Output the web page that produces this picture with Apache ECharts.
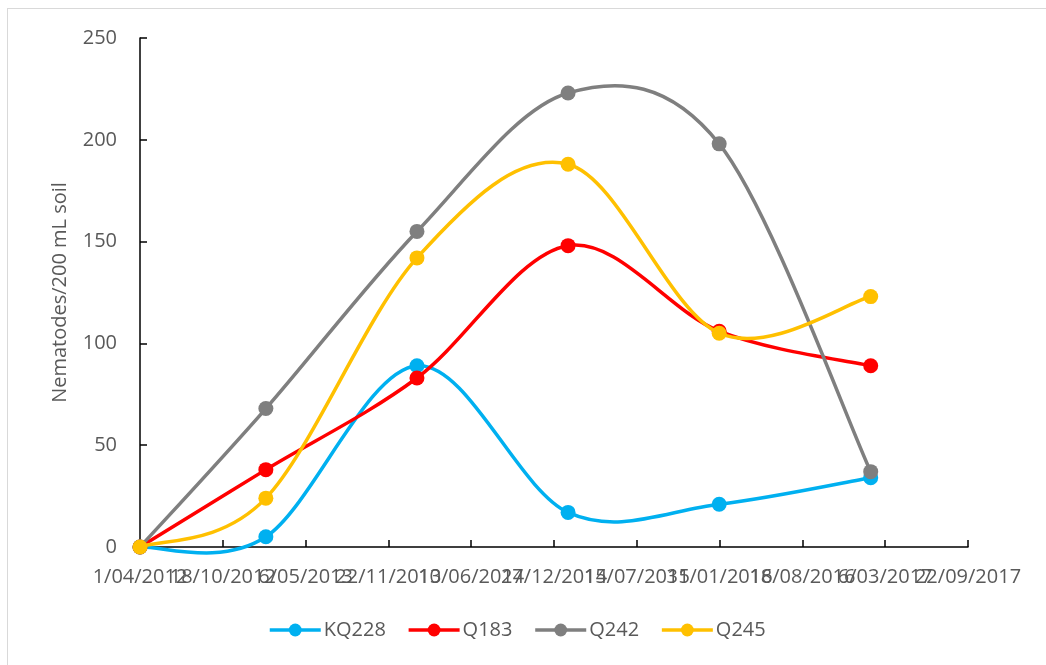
<!DOCTYPE html>
<html>
<head>
<meta charset="utf-8">
<title>Nematodes per 200 mL soil</title>
<script src="https://cdn.jsdelivr.net/npm/echarts@6/dist/echarts.min.js"></script>
<style>
  html, body { margin: 0; padding: 0; background: #ffffff; }
  #frame { position: absolute; left: 7px; top: 8px; width: 1060px; height: 680px;
           border: 1px solid #d9d9d9; box-sizing: border-box; }
  #chart { position: absolute; left: 0; top: 0; width: 1046px; height: 665px; }
</style>
</head>
<body>
<div id="frame"></div>
<div id="chart"></div>
<script>
// Sampling dates (d/mm/yyyy)
const sampleDates = ['1/04/2012', '30/01/2013', '30/01/2014', '30/01/2015', '30/01/2016', '30/01/2017'];

// Nematodes per 200 mL soil for each line
const kq228 = [0, 5, 89, 17, 21, 34];
const q183  = [0, 38, 83, 148, 106, 89];
const q242  = [0, 68, 155, 223, 198, 37];
const q245  = [0, 24, 142, 188, 105, 123];

const seriesNames = ['KQ228', 'Q183', 'Q242', 'Q245'];
const seriesColors = ['#00b0f0', '#ff0000', '#7f7f7f', '#ffc000'];

// Date axis: days counted from the first sampling date, ticks every 200 days
const axisStart = '1/04/2012';
const dayTicks = [0, 200, 400, 600, 800, 1000, 1200, 1400, 1600, 1800, 2000];

const DAY = 86400000;
function parseDmy(s) {
  const p = s.split('/').map(Number);
  return Date.UTC(p[2], p[1] - 1, p[0]);
}
const originMs = parseDmy(axisStart);
function dayOffset(s) { return Math.round((parseDmy(s) - originMs) / DAY); }
function formatDay(d) {
  const dt = new Date(originMs + d * DAY);
  const mm = String(dt.getUTCMonth() + 1).padStart(2, '0');
  return dt.getUTCDate() + '/' + mm + '/' + dt.getUTCFullYear();
}

const xs = sampleDates.map(dayOffset);
const values = [kq228, q183, q242, q245];
const xMin = dayTicks[0];
const xMax = dayTicks[dayTicks.length - 1];
const xStep = dayTicks[1] - dayTicks[0];

const FONT = '"Open Sans", "Noto Sans", sans-serif';
const TEXT = '#595959';
const LINE_W = 3.5;

// Smoothed curve: each segment is a cubic Bezier whose handles follow the
// neighbouring points (Catmull-Rom style, computed in pixel space).
function curveRenderer(color, count) {
  return function (params, api) {
    const i = params.dataIndex;
    if (i >= count - 1) return null;
    const pt = function (k) {
      k = Math.max(0, Math.min(count - 1, k));
      return api.coord([api.value(0, k), api.value(1, k)]);
    };
    const p0 = pt(i - 1), p1 = pt(i), p2 = pt(i + 1), p3 = pt(i + 2);
    return {
      type: 'bezierCurve',
      shape: {
        x1: p1[0], y1: p1[1],
        cpx1: p1[0] + (p2[0] - p0[0]) / 6, cpy1: p1[1] + (p2[1] - p0[1]) / 6,
        cpx2: p2[0] - (p3[0] - p1[0]) / 6, cpy2: p2[1] - (p3[1] - p1[1]) / 6,
        x2: p2[0], y2: p2[1]
      },
      style: { stroke: color, lineWidth: LINE_W, fill: null, lineCap: 'round' },
      silent: true
    };
  };
}

const baseAxisX = {
  type: 'value',
  min: xMin,
  max: xMax,
  interval: xStep,
  position: 'bottom',
  splitLine: { show: false }
};

const chart = echarts.init(document.getElementById('chart'), null, { renderer: 'canvas' });

const markerSeries = seriesNames.map(function (name, i) {
  return {
    name: name,
    type: 'line',
    symbol: 'circle',
    symbolSize: 15,
    showSymbol: true,
    itemStyle: { color: seriesColors[i] },
    lineStyle: { color: seriesColors[i], width: LINE_W, opacity: 0 },
    z: 3 + 2 * i,
    data: xs.map(function (x, k) { return [x, values[i][k]]; })
  };
});

const curveSeries = seriesNames.map(function (name, i) {
  return {
    name: name + ' curve',
    type: 'custom',
    renderItem: curveRenderer(seriesColors[i], xs.length),
    encode: { x: 0, y: 1 },
    clip: false,
    z: 2 + 2 * i,
    data: xs.map(function (x, k) { return [x, values[i][k]]; })
  };
});

chart.setOption({
  backgroundColor: 'transparent',
  animation: false,
  textStyle: { fontFamily: FONT },
  grid: { left: 140, right: 78, top: 38, bottom: 118, containLabel: false },
  legend: {
    left: 268,
    top: 620,
    padding: 0,
    itemWidth: 51,
    itemHeight: 16,
    itemGap: 21,
    textStyle: { fontFamily: FONT, fontSize: 20, color: TEXT, padding: [0, 0, 0, -2] },
    data: seriesNames.map(function (name, i) {
      return {
        name: name,
        lineStyle: { color: seriesColors[i], width: LINE_W, opacity: 1 }
      };
    })
  },
  xAxis: [
    Object.assign({}, baseAxisX, {
      axisLine: { show: true, lineStyle: { color: '#000000', width: 1.5 } },
      axisTick: { show: false },
      axisLabel: {
        color: TEXT, fontFamily: FONT, fontSize: 20, margin: 20,
        showMinLabel: false, showMaxLabel: false, hideOverlap: false,
        formatter: function (v) { return formatDay(v); }
      }
    }),
    Object.assign({}, baseAxisX, {
      axisLine: { show: false },
      axisTick: { show: true, inside: true, length: 7, lineStyle: { color: '#000000', width: 1.5 } },
      axisLabel: {
        color: TEXT, fontFamily: FONT, fontSize: 20, margin: 20,
        showMinLabel: true, showMaxLabel: true, hideOverlap: false,
        formatter: function (v) { return (v === xMin || v === xMax) ? formatDay(v) : ''; }
      }
    })
  ],
  yAxis: {
    type: 'value',
    min: 0,
    max: 250,
    interval: 50,
    name: 'Nematodes/200 mL soil',
    nameLocation: 'middle',
    nameGap: 70,
    nameTextStyle: { color: TEXT, fontFamily: FONT, fontSize: 20 },
    splitLine: { show: false },
    axisLine: { show: true, lineStyle: { color: '#000000', width: 1.5 } },
    axisTick: { show: true, inside: true, length: 7, lineStyle: { color: '#000000', width: 1.5 } },
    axisLabel: { color: TEXT, fontFamily: FONT, fontSize: 20, margin: 23 }
  },
  series: markerSeries.concat(curveSeries)
});
</script>
</body>
</html>
